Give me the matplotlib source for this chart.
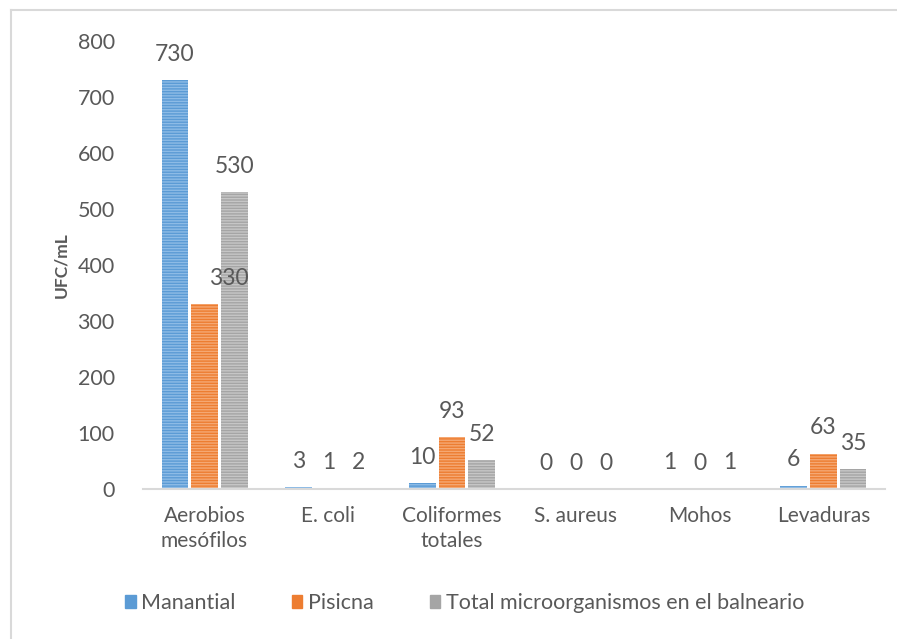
import numpy as np
import matplotlib
matplotlib.use("Agg")
import matplotlib.pyplot as plt
from matplotlib.lines import Line2D

plt.rcParams['font.family'] = ['Lato', 'DejaVu Sans']
plt.rcParams['hatch.linewidth'] = 1.0

categories = ['Aerobios\nmesófilos', 'E. coli', 'Coliformes\ntotales', 'S. aureus', 'Mohos', 'Levaduras']
manantial = [730, 3, 10, 0, 1, 6]
piscina = [330, 1, 93, 0, 0, 63]
total = [530, 2, 52, 0, 1, 35]
series_names = ['Manantial', 'Pisicna', 'Total microorganismos en el balneario']

colors = ['#5B9BD5', '#ED7D31', '#A5A5A5']
hatch_colors = ['#8DBBE6', '#F5A873', '#C6C6C6']
text_color = '#595959'

fig = plt.figure(figsize=(8.97, 6.39), dpi=100)
ax = fig.add_axes([0.159, 0.2347, 0.828, 0.701])

x = np.arange(len(categories))
w = 0.215
all_series = [manantial, piscina, total]
for i, vals in enumerate(all_series):
    pos = x + (i - 1) * (w + 0.025)
    ax.bar(pos, vals, width=w, color=colors[i], edgecolor=hatch_colors[i],
           linewidth=0, hatch='------', label=series_names[i])
    for j, (p, v) in enumerate(zip(pos, vals)):
        dx = 0.2 if (i == 1 and j == 0) else 0
        ax.annotate(str(v), (p + dx, v), xytext=(0, 11), textcoords='offset points',
                    ha='center', va='bottom', fontsize=16.5, color=text_color)

ax.set_xlim(-0.5, len(categories) - 0.5)
ax.set_ylim(0, 800)
ax.set_yticks(range(0, 801, 100))
ax.set_xticks(x)
ax.set_xticklabels(categories, fontsize=15, color=text_color, linespacing=1.35)
ax.tick_params(axis='y', length=0, pad=20, labelsize=15.5, labelcolor=text_color)
ax.tick_params(axis='x', length=0, pad=12)
for s in ['top', 'right', 'left']:
    ax.spines[s].set_visible(False)
ax.spines['bottom'].set_color('#D9D9D9')
ax.spines['bottom'].set_linewidth(1.5)
ax.set_ylabel('UFC/mL', fontsize=12.5, fontweight='bold', color=text_color, labelpad=6)

handles = [plt.Rectangle((0, 0), 1, 1, color=c) for c in colors]
fig.legend(handles, series_names, loc='center', bbox_to_anchor=(0.518, 0.056), ncol=3,
           frameon=False, fontsize=15.5, handlelength=0.5, handleheight=0.5,
           handletextpad=0.25, columnspacing=2.6, labelcolor=text_color)

# chart border (top and left visible)
fig.add_artist(Line2D([0.012, 1.0], [0.985, 0.985], transform=fig.transFigure, color='#D9D9D9', lw=1.5))
fig.add_artist(Line2D([0.012, 0.012], [0.0, 0.985], transform=fig.transFigure, color='#D9D9D9', lw=1.5))

fig.savefig('out.png', dpi=100)
